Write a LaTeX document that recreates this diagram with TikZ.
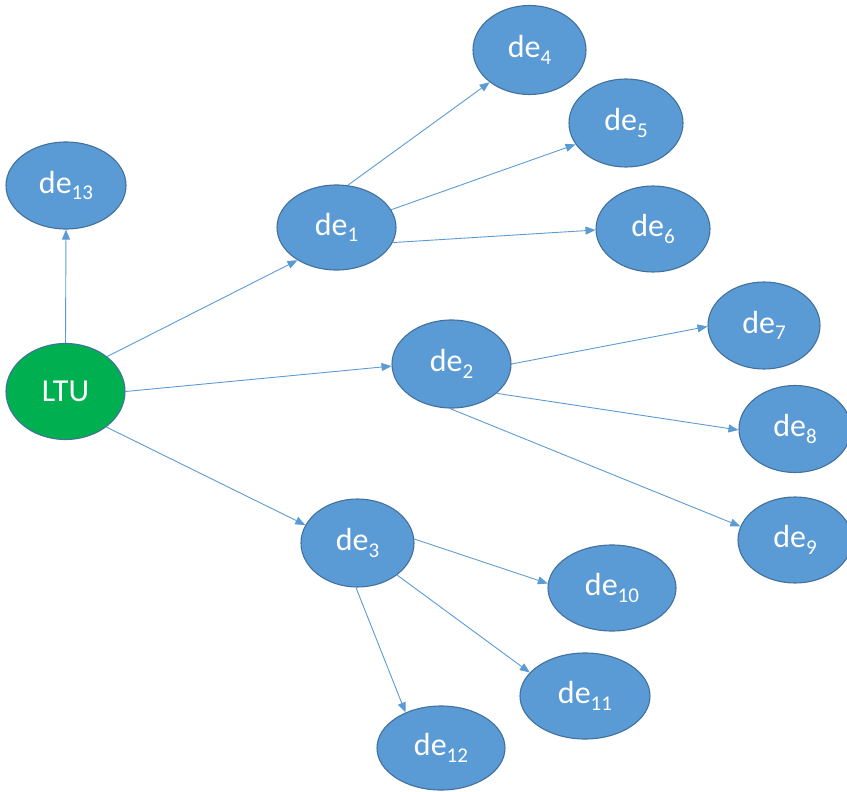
\documentclass[tikz,border=0pt]{standalone}
\usepackage{fontspec}
\setmainfont{Carlito}
\usetikzlibrary{shapes.geometric,arrows.meta}
\definecolor{nodeblue}{HTML}{5B9BD5}
\definecolor{nodeedge}{HTML}{41719C}
\definecolor{ltugreen}{HTML}{00B050}
\newcommand\subs[1]{\raisebox{-6.5pt}{\fontsize{21}{23}\selectfont #1}}
\tikzset{
  ell/.style={ellipse, draw=nodeedge, line width=1.1pt, fill=nodeblue, text=white,
    inner sep=0pt, font=\fontsize{32}{34}\selectfont},
  conn/.style={draw=nodeblue, line width=0.9pt, -{Triangle[length=10pt,width=8pt]}}
}
\begin{document}
\begin{tikzpicture}[x=1pt,y=-1pt]
\useasboundingbox (0,0) rectangle (847,792);
\node[ell, fill=ltugreen, minimum width=119, minimum height=96] (ltu) at (65.5,391.5) {LTU};
\node[ell, minimum width=120, minimum height=87] (de13) at (66,185.5) {de\subs{13}};
\node[ell, minimum width=119, minimum height=85] (de1) at (336.5,227.5) {de\subs{1}};
\node[ell, minimum width=119, minimum height=88] (de2) at (451.5,364) {de\subs{2}};
\node[ell, minimum width=113, minimum height=88] (de3) at (357.5,543) {de\subs{3}};
\node[ell, minimum width=113, minimum height=89] (de4) at (529.5,50) {de\subs{4}};
\node[ell, minimum width=114, minimum height=88] (de5) at (626,123) {de\subs{5}};
\node[ell, minimum width=114, minimum height=86] (de6) at (653,229) {de\subs{6}};
\node[ell, minimum width=112, minimum height=87] (de7) at (764,325.5) {de\subs{7}};
\node[ell, minimum width=112, minimum height=87] (de8) at (795,429) {de\subs{8}};
\node[ell, minimum width=114, minimum height=86] (de9) at (795,540) {de\subs{9}};
\node[ell, minimum width=128, minimum height=86] (de10) at (612,588) {de\subs{10}};
\node[ell, minimum width=130, minimum height=86] (de11) at (585,696) {de\subs{11}};
\node[ell, minimum width=128, minimum height=84] (de12) at (441,748) {de\subs{12}};

\draw[conn] (ltu.north) -- (de13.south);
\draw[conn] (ltu.40.7) -- (de1.220.4);
\draw[conn] (ltu.east) -- (de2.182);
\draw[conn] (ltu.319.3) -- (de3.161);
\draw[conn] (de1.75.8) -- (de4.219.7);
\draw[conn] (de1.18.8) -- (de5.203);
\draw[conn] (de1.345.4) -- (de6.181);
\draw[conn] (de2.east) -- (de7.181);
\draw[conn] (de2.327.4) -- (de8.181);
\draw[conn] (de2.268) -- (de9.166.7);
\draw[conn] (de3.4) -- (de10.176);
\draw[conn] (de3.321.7) -- (de11.157.3);
\draw[conn] (de3.268) -- (de12.135.8);
\end{tikzpicture}
\end{document}
